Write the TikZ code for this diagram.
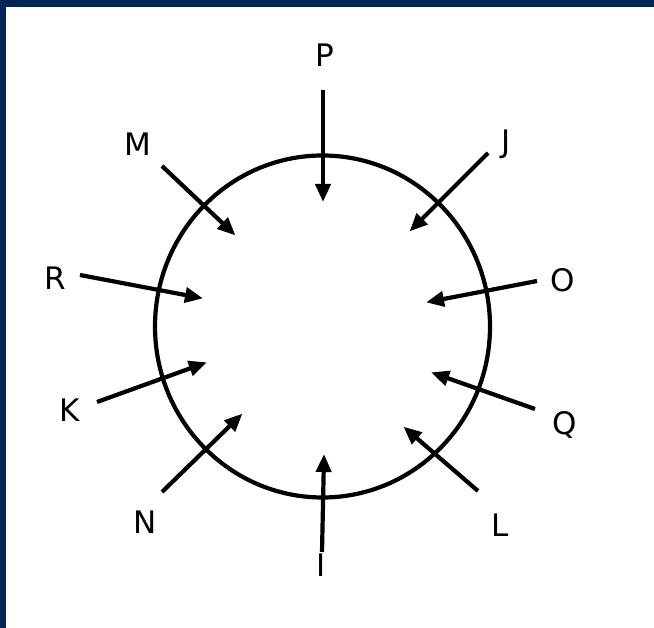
\documentclass[tikz,border=0pt]{standalone}
\usepackage{fontspec}
\setmainfont{DejaVu Sans}
\usetikzlibrary{arrows.meta}
\definecolor{navy}{RGB}{2,38,86}
\tikzset{
  lbl/.style={font=\fontsize{31}{33}\selectfont, text=black, inner sep=0pt},
  arr/.style={line width=4.2pt, -{Triangle[length=18pt,width=15pt]}, shorten >=-2pt},
  ring/.style={line width=4.2pt}
}
\begin{document}
\begin{tikzpicture}[x=1pt,y=-1pt]
\useasboundingbox (0,0) rectangle (654,628);
\fill[white] (0,0) rectangle (654,628);
\fill[navy] (0,0) rectangle (654,7);
\fill[navy] (0,0) rectangle (6,628);
\draw[ring] (322.5,326.5) ellipse [x radius=167.5, y radius=171];
% labels
\node[lbl] (P) at (325,55) {P};
\node[lbl] (J) at (506,144) {J};
\node[lbl] (O) at (563,280) {O};
\node[lbl] (Q) at (565,425) {Q};
\node[lbl] (L) at (500,525) {L};
\node[lbl] (I) at (321,565) {I};
\node[lbl] (N) at (145,522) {N};
\node[lbl] (K) at (70,410) {K};
\node[lbl] (R) at (55,278) {R};
\node[lbl] (M) at (138,144) {M};
% arrow ends
\coordinate (p0) at (323,90);  \coordinate (p1) at (323,200);
\coordinate (j0) at (488,153); \coordinate (j1) at (411,230);
\coordinate (o0) at (537,281); \coordinate (o1) at (428,302);
\coordinate (q0) at (535,409); \coordinate (q1) at (433,373);
\coordinate (l0) at (478,491); \coordinate (l1) at (405,428);
\coordinate (i0) at (322,552); \coordinate (i1) at (324,456);
\coordinate (n0) at (162,492); \coordinate (n1) at (241,415);
\coordinate (k0) at (97,402);  \coordinate (k1) at (205,363);
\coordinate (r0) at (80,275);  \coordinate (r1) at (201,298);
\coordinate (m0) at (162,166); \coordinate (m1) at (234,234);
\foreach \s in {p,j,o,q,l,i,n,k,r,m}{
  \draw[arr] (\s0) -- (\s1);
}
\end{tikzpicture}
\end{document}
